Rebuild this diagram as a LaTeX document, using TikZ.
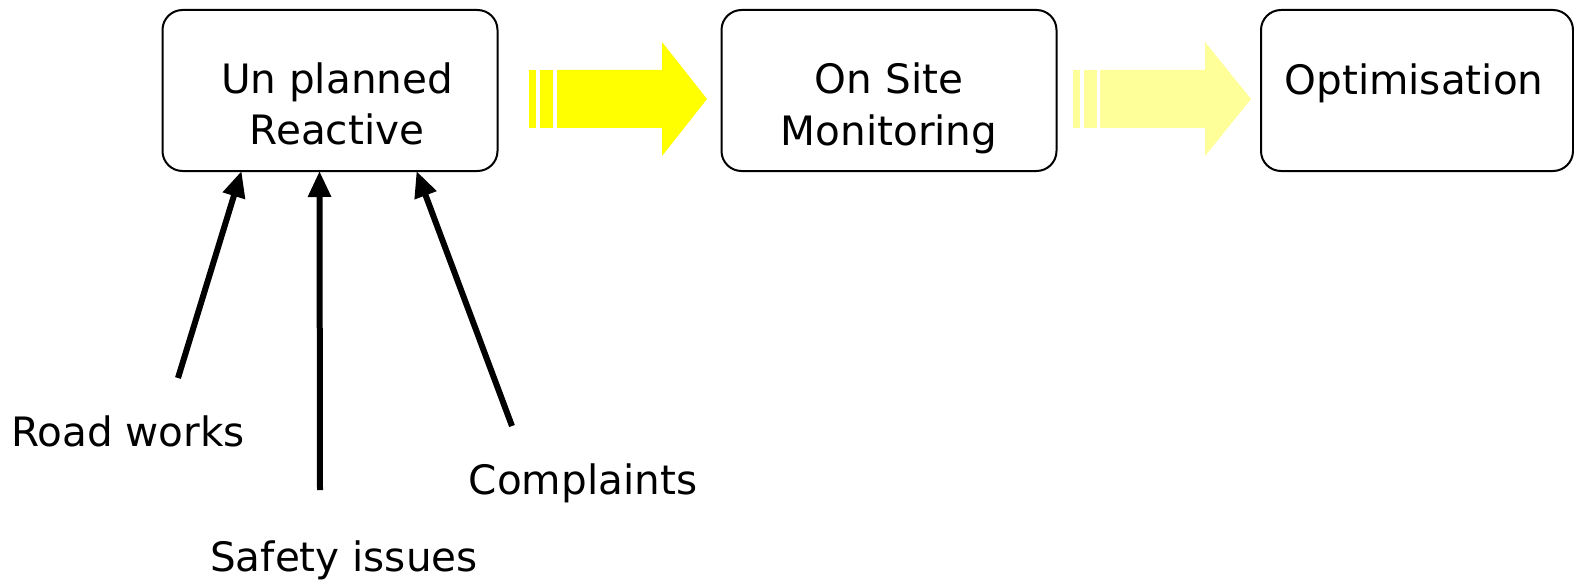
\documentclass[tikz,border=0pt]{standalone}
\usepackage{fontspec}
\setmainfont{DejaVu Sans}
\usetikzlibrary{arrows.meta,calc}
\definecolor{yel}{HTML}{FFFF00}
\definecolor{lyel}{HTML}{FFFF99}
\begin{document}
\begin{tikzpicture}[x=1pt,y=-1pt,
  box/.style={draw=black,line width=2pt,rounded corners=20pt,inner sep=0pt},
  lbl/.style={anchor=base,inner sep=0pt,font=\fontsize{40.5}{52}\selectfont},
  feed/.style={line width=6pt,-{Triangle[length=26pt,width=22pt]}}]
\useasboundingbox (0,0) rectangle (1574,583);
% boxes
\node[box,minimum width=335pt,minimum height=161pt] (b1) at (330,90.5) {};
\node[box,minimum width=335pt,minimum height=161pt] (b2) at (889,90.5) {};
\node[box,minimum width=312pt,minimum height=161pt] (b3) at (1417,90.5) {};
% box texts
\node[lbl] (t1a) at (337,94) {Un planned};
\node[lbl] (t1b) at (337,145) {Reactive};
\node[lbl] (t2a) at (889,94) {On Site};
\node[lbl] (t2b) at (889,146) {Monitoring};
\node[lbl] (t3) at (1414,95) {Optimisation};
% yellow arrows
\fill[yel] (529,70) rectangle (536,128);
\fill[yel] (540,70) rectangle (553,128);
\fill[yel] (557,70) -- (662,70) -- (662,42) -- (707,99) -- (662,156) -- (662,128) -- (557,128) -- cycle;
\fill[lyel] (1073,70) rectangle (1080,128);
\fill[lyel] (1084,70) rectangle (1097,128);
\fill[lyel] (1100,70) -- (1205,70) -- (1205,42) -- (1251,99) -- (1205,156) -- (1205,128) -- (1100,128) -- cycle;
% labels
\node[lbl] (rw) at (128,446) {Road works};
\node[lbl] (si) at (344,571) {Safety issues};
\node[lbl] (cp) at (583,494) {Complaints};
\coordinate (rwt) at (178,378);
\coordinate (sit) at (320,490);
\coordinate (cpt) at (512,426);
% feed arrows
\draw[feed] (rwt) -- ([xshift=80pt,yshift=1pt]b1.south west);
\draw[feed] (sit) -- ([xshift=158pt,yshift=1pt]b1.south west);
\draw[feed] (cpt) -- ([xshift=255pt,yshift=1pt]b1.south west);
\end{tikzpicture}
\end{document}
